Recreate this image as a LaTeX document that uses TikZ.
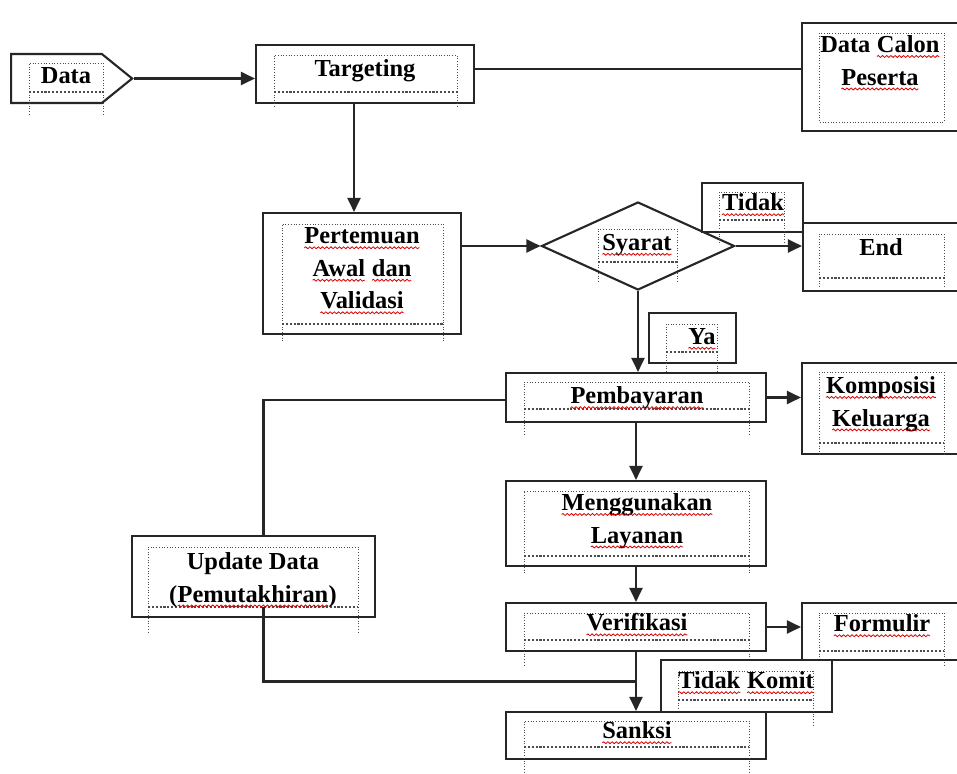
\documentclass[tikz,border=0pt]{standalone}
\usepackage{fontspec}
\setmainfont{Liberation Serif}
\usetikzlibrary{arrows.meta,shapes.geometric,shapes.symbols,fit,calc,decorations.pathmorphing}
\newlength\upx \setlength\upx{0.02cm}
\newcommand\rw[1]{\tikz[baseline=(wrd.base)]{\node[inner sep=0pt,outer sep=0pt] (wrd) {#1};
  \draw[red!85!black, line width=0.45pt, decorate, decoration={snake, amplitude=0.55pt, segment length=2.4pt}] ([yshift=-2.2pt]wrd.base west) -- ([yshift=-2.2pt]wrd.base east);}}
\newcommand\boxn[6][]{\node[box,#1,fit={(#3,#4) (#5,#6)}] (#2) {};}
\newcommand\ibox[5]{%
  \draw[idot] (#1,#4) -- (#1,#2) -- (#3,#2) -- (#3,#4);
  \draw[ibot] (#1,#4) -- (#3,#4);
  \draw[idot] (#1,#4) -- (#1,#5) (#3,#4) -- (#3,#5);}
\begin{document}
\begin{tikzpicture}[x=0.02cm,y=-0.02cm,
  line/.style={draw=black!85, line width=1.2pt},
  box/.style={line, fill=white, inner sep=0pt},
  arr/.style={line, -{Triangle[length=0.28cm,width=0.26cm]}},
  idot/.style={draw=black!70, line width=0.55pt, densely dotted},
  ibot/.style={draw=black!70, line width=1.2pt, densely dotted},
  txt/.style={inner sep=0pt, align=center, font=\fontsize{13.9pt}{18.5pt}\selectfont\bfseries}]
\useasboundingbox (0,0) rectangle (957,774);
\fill[white] (0,0) rectangle (957,774);

% Data
\node[signal, signal to=east, line, fill=white, inner sep=0pt, minimum width=121\upx, minimum height=49\upx, signal pointer angle=78] (data) at (56.5,78.5) {};
\ibox{29}{63}{103}{92}{115}
\node[txt] (datat) at (66,76) {Data};

% Targeting
\boxn{tg}{256}{45}{474}{103}
\ibox{274}{55}{457}{92}{108}
\node[txt] (tgt) at (365,71) {Targeting};

% Data Calon Peserta
\boxn{dc}{802}{23}{965}{131}
\draw[idot] (819,33) rectangle (944,122);
\node[txt] (dct) at (880,63) {Data \rw{Calon}\\\rw{Peserta}};

% Pertemuan
\boxn{pa}{263}{213}{461}{334}
\ibox{282}{224}{443}{324}{341}
\node[txt] (pat) at (362,271) {\rw{Pertemuan}\\\rw{Awal} \rw{dan}\\\rw{Validasi}};

% Syarat
\node[diamond, line, fill=white, inner sep=0pt, minimum width=193\upx, minimum height=88\upx] (sy) at (638,246) {};
\ibox{598}{229}{677}{262}{282}
\node[txt] (syt) at (637,245) {\rw{Syarat}};

% Tidak
\boxn{td}{702}{183}{803}{232}
\ibox{719}{192}{784}{220}{243}
\node[txt] (tdt) at (753,205) {\rw{Tidak}};

% End
\boxn{en}{803}{223}{965}{291}
\ibox{819}{234}{944}{278}{287}
\node[txt] (ent) at (881,247) {End};

% Ya
\boxn{ya}{649}{313}{736}{363}
\ibox{666}{324}{717}{352}{376}
\node[txt] (yat) at (702,339) {\rw{Ya}};

% Pembayaran
\boxn{pb}{506}{373}{766}{422}
\ibox{524}{382}{749}{409}{436}
\node[txt] (pbt) at (637,398) {\rw{Pembayaran}};

% Komposisi
\boxn{kp}{802}{363}{965}{454}
\ibox{819}{372}{944}{443}{456}
\node[txt] (kpt) at (881,404) {\rw{Komposisi}\\\rw{Keluarga}};

% Menggunakan
\boxn{mg}{506}{481}{766}{566}
\ibox{524}{491}{749}{556}{574}
\node[txt] (mgt) at (637,521) {\rw{Menggunakan}\\\rw{Layanan}};

% Verifikasi
\boxn{vf}{506}{603}{766}{651}
\ibox{524}{613}{749}{640}{666}
\node[txt] (vft) at (637,625) {\rw{Verifikasi}};

% Formulir
\boxn{fm}{802}{603}{965}{660}
\ibox{819}{613}{944}{651}{665}
\node[txt] (fmt) at (882,626) {\rw{Formulir}};

% Update Data
\boxn{ud}{132}{536}{375}{617}
\ibox{148}{547}{358}{607}{632}
\node[txt] (udt) at (253,580) {Update Data\\(\rw{Pemutakhiran})};

% Tidak Komit
\boxn{tk}{661}{660}{832}{712}
\ibox{678}{671}{813}{700}{725}
\node[txt] (tkt) at (746,683) {\rw{Tidak} \rw{Komit}};

% Sanksi
\boxn{sk}{506}{712}{766}{759}
\ibox{524}{721}{749}{747}{780}
\node[txt] (skt) at (637,733) {\rw{Sanksi}};

% connectors
\draw[arr] (data.east) -- (data.east -| tg.west);
\draw[arr] ($(tg.south)+(-11,0)$) -- ($(pa.north)+(-8,0)$);
\draw[line] ([yshift=0.1cm]tg.east) -- ([yshift=0.1cm]tg.east -| dc.west);
\draw[arr] (pa.east |- sy.west) -- (sy.west);
\draw[arr] (sy.east) -- (sy.east -| en.west);
\draw[arr] (sy.south) -- (sy.south |- pb.north);
\draw[arr] (pb.east) -- (pb.east -| kp.west);
\draw[arr] (pb.south) -- (mg.north);
\draw[arr] (mg.south) -- (vf.north);
\draw[arr] (vf.east) -- (vf.east -| fm.west);
\draw[arr] (vf.south) -- (sk.north);
\coordinate (join) at ($(vf.south)!0.5!(sk.north)$);
\draw[line] ($(ud.north)+(10,0)$) |- ([yshift=-0.05cm]pb.west);
\draw[line] ($(ud.south)+(10,-11)$) |- (join);
\end{tikzpicture}
\end{document}
